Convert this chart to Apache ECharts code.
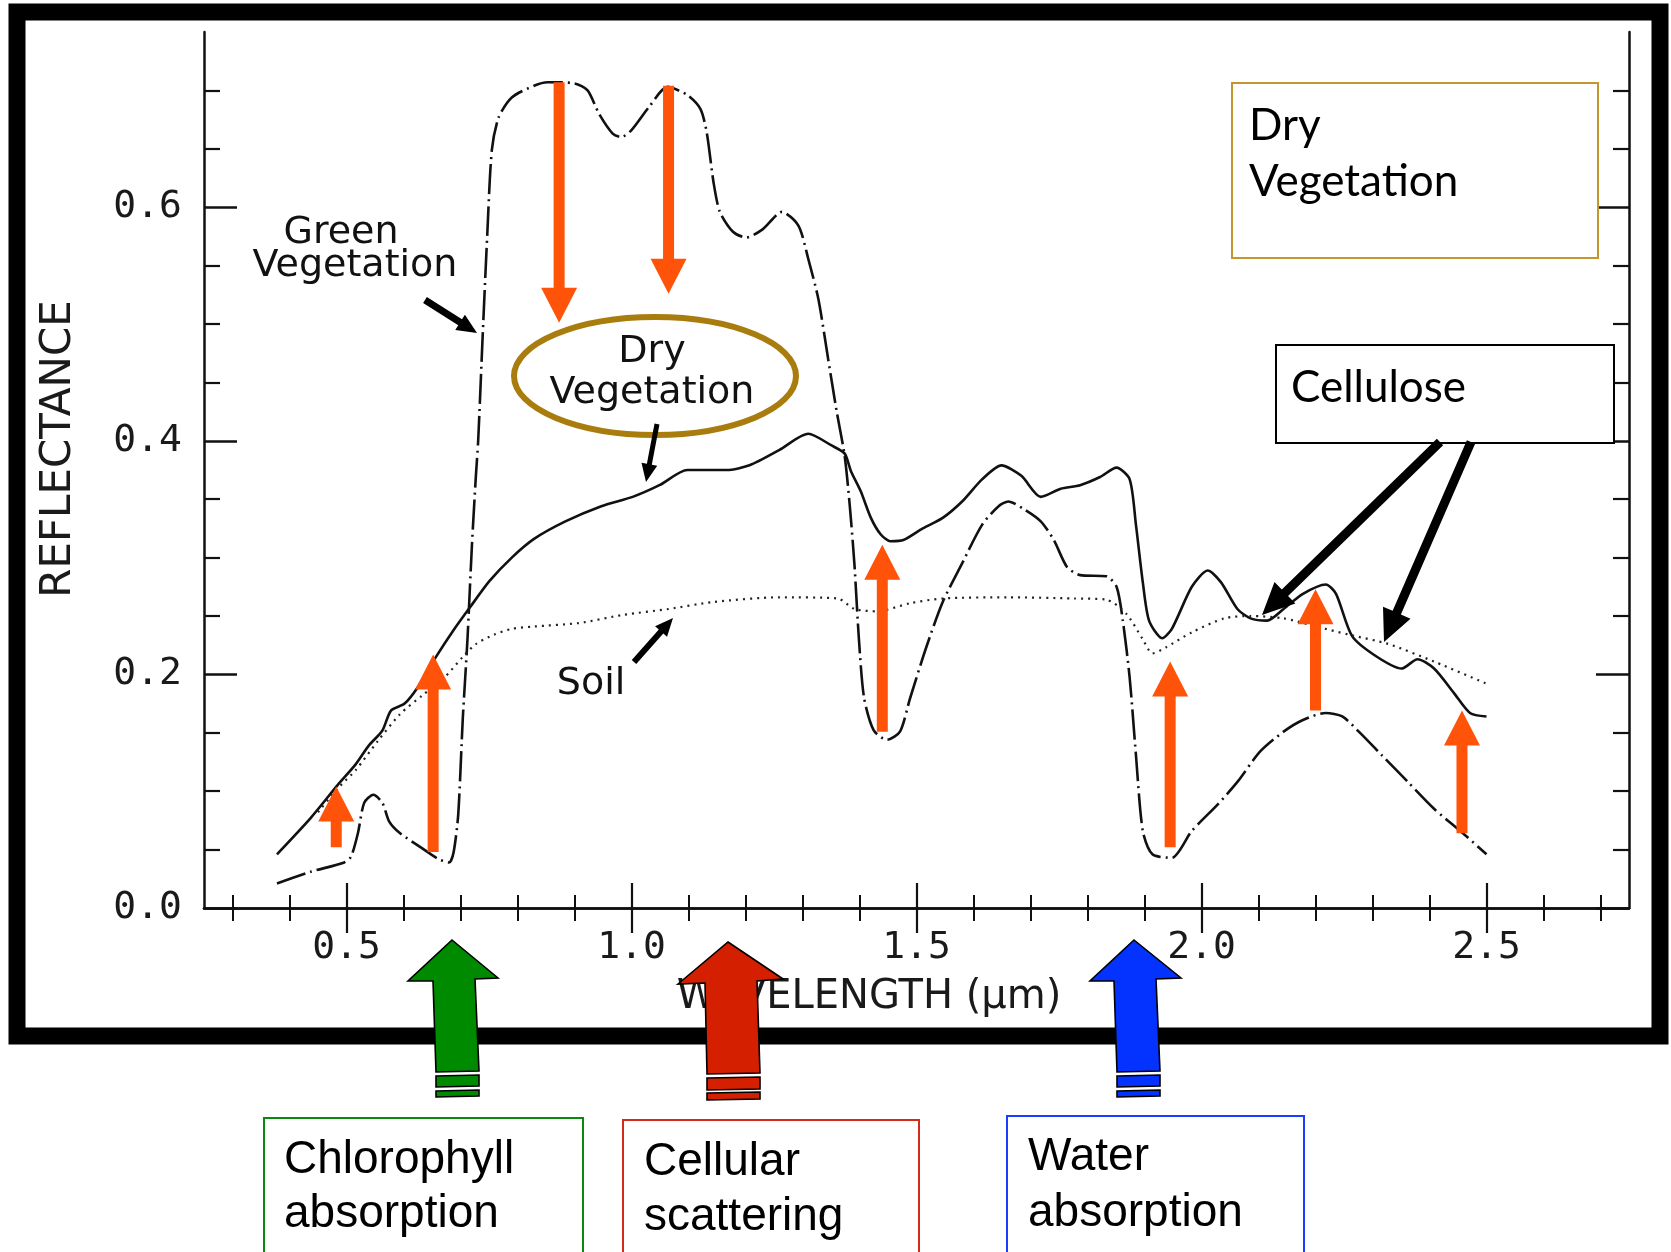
<!DOCTYPE html>
<html>
<head>
<meta charset="utf-8">
<script src="https://cdn.jsdelivr.net/npm/echarts@6/dist/echarts.min.js"></script>
<style>
  html, body { margin: 0; padding: 0; background: #fff; }
  #chart { width: 1671px; height: 1252px; }
</style>
</head>
<body>
<div id="chart"></div>
<script>
// ---- Reflectance spectra (wavelength in µm, reflectance 0..1) ----
const greenWl = [0.378, 0.437, 0.496, 0.508, 0.52, 0.531, 0.547, 0.563, 0.575, 0.594, 0.633, 0.661, 0.68, 0.688, 0.696, 0.704, 0.712, 0.72, 0.727,
  0.731, 0.739, 0.747, 0.755, 0.767, 0.79, 0.829, 0.853, 0.9, 0.923, 0.943, 0.967, 0.982, 1.0, 1.031, 1.063,
  1.098, 1.121, 1.132, 1.144, 1.155, 1.178, 1.201, 1.23, 1.264, 1.293, 1.31, 1.328, 1.345, 1.36, 1.374, 1.383, 1.391, 1.399, 1.408,
  1.425, 1.448, 1.471, 1.489, 1.517, 1.546, 1.58, 1.615, 1.644, 1.661, 1.69, 1.718, 1.741, 1.764, 1.787, 1.833, 1.851, 1.862,
  1.874, 1.885, 1.897, 1.914, 1.948, 1.983, 2.029, 2.063, 2.103, 2.144, 2.178, 2.218, 2.247, 2.276, 2.316, 2.362, 2.408, 2.454, 2.5];
const greenRefl = [0.021, 0.031, 0.039, 0.044, 0.064, 0.09, 0.097, 0.09, 0.074, 0.064, 0.051, 0.042, 0.039, 0.048, 0.08, 0.162, 0.228, 0.31, 0.37,
  0.40, 0.491, 0.577, 0.649, 0.677, 0.694, 0.704, 0.707, 0.706, 0.70, 0.68, 0.663, 0.66, 0.666, 0.686, 0.703,
  0.696, 0.684, 0.664, 0.621, 0.596, 0.579, 0.574, 0.581, 0.596, 0.584, 0.556, 0.521, 0.47, 0.425, 0.387, 0.344, 0.295, 0.23, 0.18,
  0.152, 0.144, 0.151, 0.18, 0.223, 0.262, 0.295, 0.328, 0.344, 0.348, 0.341, 0.331, 0.315, 0.292, 0.285, 0.284, 0.275, 0.246,
  0.197, 0.131, 0.066, 0.046, 0.043, 0.066, 0.089, 0.108, 0.134, 0.151, 0.161, 0.167, 0.164, 0.151, 0.131, 0.108, 0.085, 0.066, 0.046];

const dryWl = [0.378, 0.437, 0.484, 0.516, 0.539, 0.563, 0.578, 0.602, 0.625, 0.657, 0.688, 0.716, 0.751, 0.79, 0.829, 0.884, 0.947, 1.002, 1.049,
  1.098, 1.167, 1.207, 1.259, 1.31, 1.351, 1.374, 1.385, 1.402, 1.42, 1.437, 1.454, 1.477, 1.511, 1.546, 1.58, 1.615, 1.649, 1.684,
  1.718, 1.753, 1.787, 1.822, 1.851, 1.874, 1.885, 1.897, 1.908, 1.931, 1.948, 1.983, 2.011, 2.034, 2.063, 2.086, 2.115, 2.144,
  2.178, 2.218, 2.236, 2.264, 2.305, 2.351, 2.379, 2.408, 2.443, 2.471, 2.5];
const dryRefl = [0.046, 0.077, 0.105, 0.123, 0.139, 0.152, 0.169, 0.175, 0.189, 0.215, 0.238, 0.257, 0.28, 0.30, 0.316, 0.331, 0.344, 0.352, 0.362,
  0.375, 0.375, 0.379, 0.392, 0.406, 0.396, 0.389, 0.374, 0.357, 0.334, 0.32, 0.314, 0.315, 0.325, 0.334, 0.348, 0.367, 0.379, 0.37,
  0.352, 0.359, 0.362, 0.369, 0.377, 0.367, 0.328, 0.279, 0.246, 0.231, 0.239, 0.275, 0.289, 0.279, 0.256, 0.248, 0.246, 0.256,
  0.269, 0.277, 0.269, 0.233, 0.216, 0.205, 0.213, 0.205, 0.184, 0.167, 0.164];

const soilWl = [0.45, 0.484, 0.516, 0.555, 0.594, 0.633, 0.673, 0.704, 0.727, 0.759, 0.79, 0.829, 0.908, 0.986, 1.065, 1.144, 1.259, 1.362,
  1.391, 1.431, 1.489, 1.546, 1.661, 1.776, 1.833, 1.868, 1.897, 1.914, 1.937, 1.983, 2.04, 2.086, 2.144, 2.201, 2.259, 2.328, 2.408, 2.5];
const soilRefl = [0.082, 0.102, 0.118, 0.143, 0.166, 0.182, 0.198, 0.215, 0.226, 0.234, 0.239, 0.241, 0.244, 0.251, 0.256, 0.262, 0.266, 0.265,
  0.256, 0.254, 0.261, 0.265, 0.266, 0.265, 0.264, 0.252, 0.23, 0.218, 0.223, 0.236, 0.248, 0.25, 0.248, 0.241, 0.234, 0.226, 0.211, 0.192];

// Absorption / reflectance-change arrows: wavelength, start and end reflectance
const changeArrowWl   = [0.873, 1.065, 0.482, 0.652, 1.44, 1.945, 2.2, 2.457];
const changeArrowFrom = [0.707, 0.704, 0.052, 0.048, 0.151, 0.052, 0.169, 0.064];
const changeArrowTo   = [0.501, 0.526, 0.104, 0.217, 0.311, 0.211, 0.273, 0.169];

// Axis ticks
const xMajorTicks = [0.5, 1.0, 1.5, 2.0, 2.5];
const xMinorTicks = [0.3, 0.4, 0.6, 0.7, 0.8, 0.9, 1.1, 1.2, 1.3, 1.4, 1.6, 1.7, 1.8, 1.9, 2.1, 2.2, 2.3, 2.4, 2.6, 2.7];
const yMajorTicks = [0.0, 0.2, 0.4, 0.6];
const yMinorTicks = [0.05, 0.1, 0.15, 0.25, 0.3, 0.35, 0.45, 0.5, 0.55, 0.65, 0.7];

const zip = (xs, ys) => xs.map((x, i) => [x, ys[i]]);

// Polygon outline of a straight arrow from a to b
function arrowPoints(a, b, shaftHalf, headHalf, headLen) {
  const dx = b[0] - a[0], dy = b[1] - a[1];
  const L = Math.hypot(dx, dy) || 1;
  const ux = dx / L, uy = dy / L, nx = -uy, ny = ux;
  const hb = [b[0] - ux * headLen, b[1] - uy * headLen];
  return [
    [a[0] + nx * shaftHalf, a[1] + ny * shaftHalf],
    [hb[0] + nx * shaftHalf, hb[1] + ny * shaftHalf],
    [hb[0] + nx * headHalf, hb[1] + ny * headHalf],
    [b[0], b[1]],
    [hb[0] - nx * headHalf, hb[1] - ny * headHalf],
    [hb[0] - nx * shaftHalf, hb[1] - ny * shaftHalf],
    [a[0] - nx * shaftHalf, a[1] - ny * shaftHalf]
  ];
}

const AXIS = '#111';
const TICK_FONT = 'DejaVu Sans Mono';
const X_MIN = 0.25, X_MAX = 2.75, Y_MIN = 0, Y_MAX = 0.75;

// showLine: draw the axis line; showLabels: draw tick labels
function xAxisDef(position, ticks, len, width, showLine, showLabels) {
  return {
    type: 'value', min: X_MIN, max: X_MAX, position: position,
    axisLine: { show: showLine, lineStyle: { color: AXIS, width: 2.5 } },
    axisTick: { show: true, inside: true, length: len, customValues: ticks, lineStyle: { color: AXIS, width: width } },
    axisLabel: showLabels ? {
      show: true, customValues: ticks, formatter: v => Number(v).toFixed(1),
      fontFamily: TICK_FONT, fontSize: 38, color: '#1a1a1a', margin: 21
    } : { show: false },
    splitLine: { show: false }
  };
}
function yAxisDef(position, ticks, len, width, showLine, showLabels) {
  return {
    type: 'value', min: Y_MIN, max: Y_MAX, position: position,
    axisLine: { show: showLine, lineStyle: { color: AXIS, width: 2.5 } },
    axisTick: { show: true, inside: true, length: len, customValues: ticks, lineStyle: { color: AXIS, width: width } },
    axisLabel: showLabels ? {
      show: true, customValues: ticks, formatter: v => Number(v).toFixed(1),
      fontFamily: TICK_FONT, fontSize: 38, color: '#1a1a1a', margin: 22
    } : { show: false },
    splitLine: { show: false }
  };
}

// Block arrow pointing up with a broken tail (two bars below the shaft)
function blockArrow(color, tip, headL, headR, shaftTL, shaftTR, shaftBL, shaftBR, bars) {
  const els = [{
    type: 'polygon', z: 30,
    shape: { points: [tip, headR, shaftTR, shaftBR, shaftBL, shaftTL, headL] },
    style: { fill: color, stroke: '#000', lineWidth: 1.6 }
  }];
  bars.forEach(b => els.push({
    type: 'polygon', z: 30,
    shape: { points: [[shaftBL[0], b[0]], [shaftBR[0], b[0] - 1], [shaftBR[0], b[1] - 1], [shaftBL[0], b[1]]] },
    style: { fill: color, stroke: '#000', lineWidth: 1.6 }
  }));
  return els;
}

const BOX_FONT = '44px Lato, "Open Sans", sans-serif';
const NOTE_FONT = '46px "Liberation Sans", Arial, sans-serif';
const PLOT_FONT = '38px "DejaVu Sans", sans-serif';

const graphics = [
  // outer black frame
  { type: 'rect', z: 1, shape: { x: 17, y: 12, width: 1643, height: 1024 }, style: { fill: 'none', stroke: '#000', lineWidth: 17 } },

  // axis titles
  { type: 'text', z: 5, x: 59, y: 449, rotation: Math.PI / 2,
    style: { text: 'REFLECTANCE', font: '42px "DejaVu Sans", sans-serif', fill: '#1a1a1a', align: 'center', verticalAlign: 'middle' } },
  { type: 'text', z: 5, x: 869, y: 998,
    style: { text: 'WAVELENGTH (µm)', font: '40px "DejaVu Sans", sans-serif', fill: '#1a1a1a', align: 'center', verticalAlign: 'middle' } },

  // in-plot curve labels
  { type: 'text', z: 5, x: 341, y: 233, style: { text: 'Green', font: PLOT_FONT, fill: '#111', align: 'center', verticalAlign: 'middle' } },
  { type: 'text', z: 5, x: 355, y: 266, style: { text: 'Vegetation', font: PLOT_FONT, fill: '#111', align: 'center', verticalAlign: 'middle' } },
  { type: 'text', z: 5, x: 652, y: 352, style: { text: 'Dry', font: PLOT_FONT, fill: '#111', align: 'center', verticalAlign: 'middle' } },
  { type: 'text', z: 5, x: 652, y: 393, style: { text: 'Vegetation', font: PLOT_FONT, fill: '#111', align: 'center', verticalAlign: 'middle' } },
  { type: 'text', z: 5, x: 591, y: 684, style: { text: 'Soil', font: PLOT_FONT, fill: '#111', align: 'center', verticalAlign: 'middle' } },

  // ring around the dry vegetation label
  { type: 'ellipse', z: 6, shape: { cx: 655, cy: 376, rx: 141, ry: 59 }, style: { fill: 'none', stroke: '#a97c0e', lineWidth: 6 } },

  // black pointers from labels to curves
  { type: 'polygon', z: 8, shape: { points: arrowPoints([425, 300], [477, 333], 3.5, 9, 20) }, style: { fill: '#000' } },
  { type: 'polygon', z: 8, shape: { points: arrowPoints([657, 424], [646, 482], 2.5, 8, 18) }, style: { fill: '#000' } },
  { type: 'polygon', z: 8, shape: { points: arrowPoints([634, 662], [673, 618], 3, 8, 18) }, style: { fill: '#000' } },
  { type: 'polygon', z: 8, shape: { points: arrowPoints([1440, 442], [1262, 615], 4.5, 15, 32) }, style: { fill: '#000' } },
  { type: 'polygon', z: 8, shape: { points: arrowPoints([1471, 442], [1384, 642], 4.5, 15, 32) }, style: { fill: '#000' } },

  // callout boxes in the plot
  { type: 'rect', z: 7, shape: { x: 1232, y: 83, width: 366, height: 175 }, style: { fill: '#fff', stroke: '#c4962e', lineWidth: 2 } },
  { type: 'text', z: 8, x: 1249, y: 126, style: { text: 'Dry', font: BOX_FONT, fill: '#000', align: 'left', verticalAlign: 'middle' } },
  { type: 'text', z: 8, x: 1249, y: 182, style: { text: 'Vegetation', font: BOX_FONT, fill: '#000', align: 'left', verticalAlign: 'middle' } },
  { type: 'rect', z: 7, shape: { x: 1276, y: 345, width: 338, height: 98 }, style: { fill: '#fff', stroke: '#000', lineWidth: 2 } },
  { type: 'text', z: 8, x: 1291, y: 388, style: { text: 'Cellulose', font: BOX_FONT, fill: '#000', align: 'left', verticalAlign: 'middle' } },

  // process boxes below the chart
  { type: 'rect', z: 7, shape: { x: 264, y: 1118, width: 319, height: 200 }, style: { fill: '#fff', stroke: '#0a8a0a', lineWidth: 2 } },
  { type: 'text', z: 8, x: 284, y: 1160, style: { text: 'Chlorophyll', font: NOTE_FONT, fill: '#000', align: 'left', verticalAlign: 'middle' } },
  { type: 'text', z: 8, x: 284, y: 1214, style: { text: 'absorption', font: NOTE_FONT, fill: '#000', align: 'left', verticalAlign: 'middle' } },
  { type: 'rect', z: 7, shape: { x: 623, y: 1120, width: 296, height: 200 }, style: { fill: '#fff', stroke: '#d42a1a', lineWidth: 2 } },
  { type: 'text', z: 8, x: 644, y: 1162, style: { text: 'Cellular', font: NOTE_FONT, fill: '#000', align: 'left', verticalAlign: 'middle' } },
  { type: 'text', z: 8, x: 644, y: 1217, style: { text: 'scattering', font: NOTE_FONT, fill: '#000', align: 'left', verticalAlign: 'middle' } },
  { type: 'rect', z: 7, shape: { x: 1007, y: 1116, width: 297, height: 200 }, style: { fill: '#fff', stroke: '#1a3dff', lineWidth: 2 } },
  { type: 'text', z: 8, x: 1028, y: 1157, style: { text: 'Water', font: NOTE_FONT, fill: '#000', align: 'left', verticalAlign: 'middle' } },
  { type: 'text', z: 8, x: 1028, y: 1213, style: { text: 'absorption', font: NOTE_FONT, fill: '#000', align: 'left', verticalAlign: 'middle' } }
].concat(
  blockArrow('#008a00', [452, 940], [408, 981], [498, 978], [433, 981], [475, 979], [436, 1072], [479, 1071], [[1076, 1087], [1091, 1097]]),
  blockArrow('#d42000', [728, 942], [678, 984], [783, 979], [705, 983], [757, 981], [707, 1074], [760, 1073], [[1078, 1090], [1093, 1100]]),
  blockArrow('#0433ff', [1134, 940], [1090, 981], [1181, 978], [1114, 981], [1156, 979], [1117, 1072], [1160, 1071], [[1076, 1087], [1091, 1097]])
);

const chart = echarts.init(document.getElementById('chart'), null, { renderer: 'canvas' });
chart.setOption({
  backgroundColor: '#fff',
  animation: false,
  grid: { left: 204, top: 32, width: 1425, height: 876, containLabel: false, outerBoundsMode: 'none' },
  xAxis: [
    xAxisDef('bottom', xMajorTicks, 25, 2.2, true, true),
    xAxisDef('bottom', xMinorTicks, 13, 2, false, false),
    xAxisDef('top', xMajorTicks, 25, 2.2, true, false),
    xAxisDef('top', xMinorTicks, 13, 2, false, false)
  ],
  yAxis: [
    yAxisDef('left', yMajorTicks, 33, 2.5, true, true),
    yAxisDef('left', yMinorTicks, 16, 2.2, false, false),
    yAxisDef('right', yMajorTicks, 33, 2.5, true, false),
    yAxisDef('right', yMinorTicks, 16, 2.2, false, false)
  ],
  series: [
    {
      name: 'Green Vegetation', type: 'line', xAxisIndex: 0, yAxisIndex: 0,
      data: zip(greenWl, greenRefl), showSymbol: false, smooth: 0.25,
      lineStyle: { color: '#111', width: 2.6, type: [30, 5, 2, 5] }, z: 3
    },
    {
      name: 'Dry Vegetation', type: 'line', xAxisIndex: 0, yAxisIndex: 0,
      data: zip(dryWl, dryRefl), showSymbol: false, smooth: 0.25,
      lineStyle: { color: '#111', width: 2.6 }, z: 3
    },
    {
      name: 'Soil', type: 'line', xAxisIndex: 0, yAxisIndex: 0,
      data: zip(soilWl, soilRefl), showSymbol: false, smooth: 0.25,
      lineStyle: { color: '#222', width: 2.2, type: [2, 5] }, z: 3
    },
    {
      name: 'Spectral change', type: 'custom', xAxisIndex: 0, yAxisIndex: 0, z: 6,
      data: changeArrowWl.map((w, i) => [w, changeArrowFrom[i], changeArrowTo[i]]),
      encode: { x: 0, y: [1, 2] },
      renderItem: function (params, api) {
        const a = api.coord([api.value(0), api.value(1)]);
        const b = api.coord([api.value(0), api.value(2)]);
        return { type: 'polygon', shape: { points: arrowPoints(a, b, 5.5, 18, 35) }, style: { fill: '#ff5309' } };
      }
    }
  ],
  graphic: { elements: graphics }
});
</script>
</body>
</html>
